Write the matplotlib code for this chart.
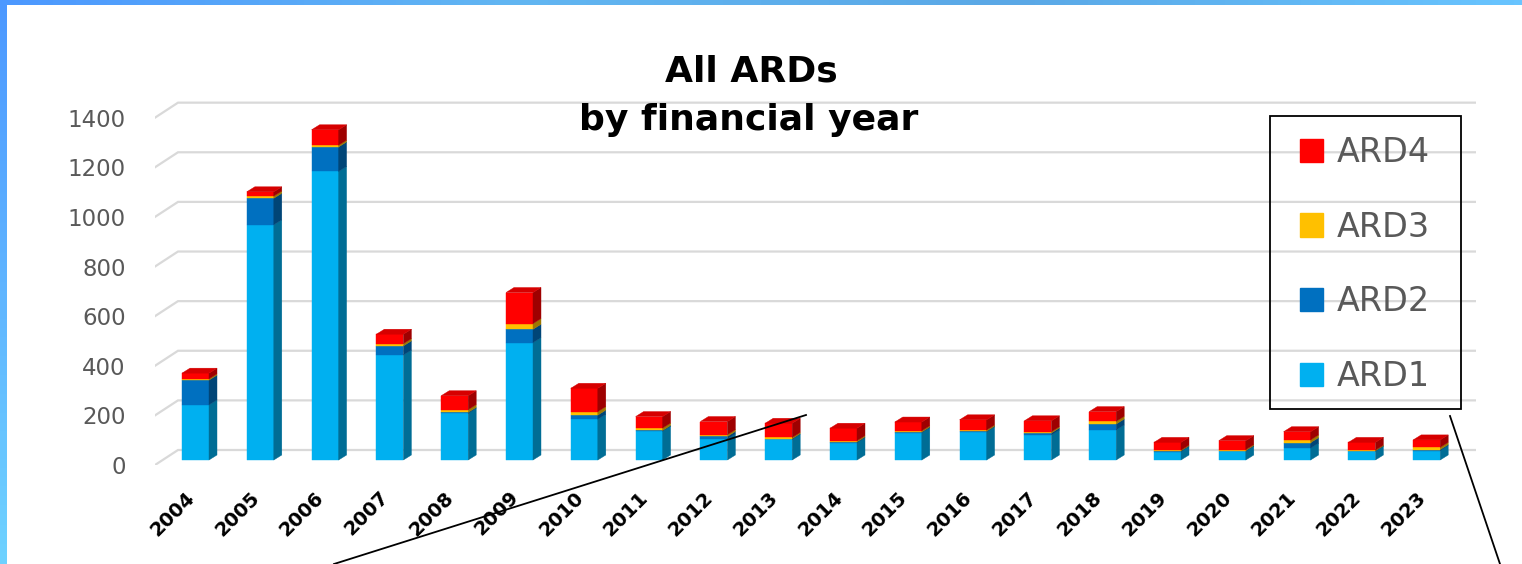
import numpy as np
import matplotlib
matplotlib.use("Agg")
import matplotlib.pyplot as plt
from matplotlib.patches import Rectangle, Polygon, Patch
from matplotlib.lines import Line2D
from matplotlib.colors import LinearSegmentedColormap, to_rgb

years = [str(y) for y in range(2004, 2024)]
ard1 = [222, 948, 1163, 423, 188, 473, 164, 116, 85, 83, 70, 110, 114, 101, 121, 34, 35, 48, 35, 38]
ard2 = [100, 107, 99, 37, 4, 54, 17, 3, 10, 3, 3, 3, 2, 8, 24, 3, 3, 22, 2, 4]
ard3 = [5, 9, 7, 9, 11, 23, 14, 10, 7, 5, 5, 5, 5, 5, 11, 3, 4, 11, 3, 9]
ard4 = [23, 17, 62, 38, 56, 125, 94, 46, 53, 57, 50, 35, 41, 44, 39, 31, 36, 33, 31, 30]
series_names = ["ARD1", "ARD2", "ARD3", "ARD4"]
series_colors = ["#00B0F0", "#0070C0", "#FFC000", "#FF0000"]
y_ticks = [0, 200, 400, 600, 800, 1000, 1200, 1400]

W, H = 1522, 564
PX_X = 64.8      # pixels per bar step
PX_Y = 0.2481    # pixels per value unit
X0_PX = 195.5    # pixel x of first bar centre
BASE_PX = 460    # pixel y of value 0 on the bar plane


def shade(c, f):
    r, g, b = to_rgb(c)
    return (r * f, g * f, b * f)


fig = plt.figure(figsize=(W / 100, H / 100), dpi=100)
fig.patch.set_facecolor("white")

# slide border strips
top_ax = fig.add_axes([0, 1 - 5 / H, 1, 5 / H])
top_ax.imshow(np.linspace(0, 1, 200)[None, :], aspect="auto",
              cmap=LinearSegmentedColormap.from_list("t", ["#4c98ff", "#62b6f2", "#5aa8e6", "#68c4ff"]))
top_ax.axis("off")
left_ax = fig.add_axes([0, 0, 7 / W, 1])
left_ax.imshow(np.linspace(0, 1, 200)[:, None], aspect="auto",
               cmap=LinearSegmentedColormap.from_list("l", ["#4c98ff", "#5fb4ff", "#6ed2ff"]))
left_ax.axis("off")

left_px, right_px, top_px, bot_px = 155, 1476, 100, 465
ax = fig.add_axes([left_px / W, (H - bot_px) / H, (right_px - left_px) / W, (bot_px - top_px) / H])
ax.set_xlim((left_px - X0_PX) / PX_X, (right_px - X0_PX) / PX_X)
ax.set_ylim((BASE_PX - bot_px) / PX_Y, (BASE_PX - top_px) / PX_Y)
ax.patch.set_alpha(0)
for s in ax.spines.values():
    s.set_visible(False)

# 3D offsets in data units
front_y = (BASE_PX - bot_px) / PX_Y
back_y = (BASE_PX - 450) / PX_Y
wall_x0 = (left_px - X0_PX) / PX_X
wall_x1 = (178 - X0_PX) / PX_X
x_end = (right_px - X0_PX) / PX_X
grid_c = "#d9d9d9"
for v in y_ticks:
    ax.plot([wall_x0, wall_x1, x_end], [v + front_y, v + back_y, v + back_y],
            color=grid_c, lw=1.6, zorder=1, solid_joinstyle="miter")

bw = 27 / PX_X
ddx = 8 / PX_X
ddy = 5 / PX_Y
data = [ard1, ard2, ard3, ard4]
for i in range(len(years)):
    bottom = 0
    for k, (vals, col) in enumerate(zip(data, series_colors)):
        v = vals[i]
        xl, xr = i - bw / 2, i + bw / 2
        ax.add_patch(Rectangle((xl, bottom), bw, v, facecolor=col, edgecolor=col, lw=0.3, zorder=3))
        side = shade(col, 0.62)
        ax.add_patch(Polygon([(xr, bottom), (xr + ddx, bottom + ddy), (xr + ddx, bottom + v + ddy),
                              (xr, bottom + v)], closed=True, facecolor=side, edgecolor=side, lw=0.3, zorder=3))
        bottom += v
        if k == len(data) - 1:
            topc = shade(col, 0.84)
            ax.add_patch(Polygon([(xl, bottom), (xr, bottom), (xr + ddx, bottom + ddy), (xl + ddx, bottom + ddy)],
                                 closed=True, facecolor=topc, edgecolor=topc, lw=0.3, zorder=3))

ax.set_yticks([v + front_y for v in y_ticks], labels=[str(v) for v in y_ticks])
ax.tick_params(axis="y", length=0, pad=21, labelsize=16.5, labelcolor="#595959")
ax.set_xticks(range(len(years)), labels=years)
ax.tick_params(axis="x", length=0, pad=24, labelsize=14)
for lab in ax.get_xticklabels():
    lab.set_rotation(45)
    lab.set_ha("right")
    lab.set_va("baseline")
    lab.set_rotation_mode("anchor")
    lab.set_fontweight("bold")

# title
fig.text(751 / W, 1 - 82 / H, "All ARDs", ha="center", va="baseline", fontsize=26, fontweight="bold")
fig.text(749 / W, 1 - 130 / H, "by financial year", ha="center", va="baseline", fontsize=26, fontweight="bold")

# legend
handles = [Patch(facecolor=c, edgecolor=c) for c in series_colors[::-1]]
fig.legend(handles, series_names[::-1], loc="upper left", bbox_to_anchor=(1300 / W, 1 - 136 / H),
           bbox_transform=fig.transFigure, frameon=False, fontsize=24, labelcolor="#595959",
           handlelength=0.69, handleheight=0.69, handletextpad=0.42, labelspacing=1.25,
           borderpad=0, borderaxespad=0)
fig.add_artist(Rectangle((1270 / W, 1 - 409 / H), 191 / W, 293 / H, transform=fig.transFigure,
                         fill=False, edgecolor="black", lw=1.3))

# callout lines
fig.add_artist(Line2D([806 / W, 334 / W], [1 - 415 / H, 0], transform=fig.transFigure, color="black", lw=1.3))
fig.add_artist(Line2D([1450 / W, 1500 / W], [1 - 416 / H, 0], transform=fig.transFigure, color="black", lw=1.3))

fig.savefig("out.png", dpi=100)
